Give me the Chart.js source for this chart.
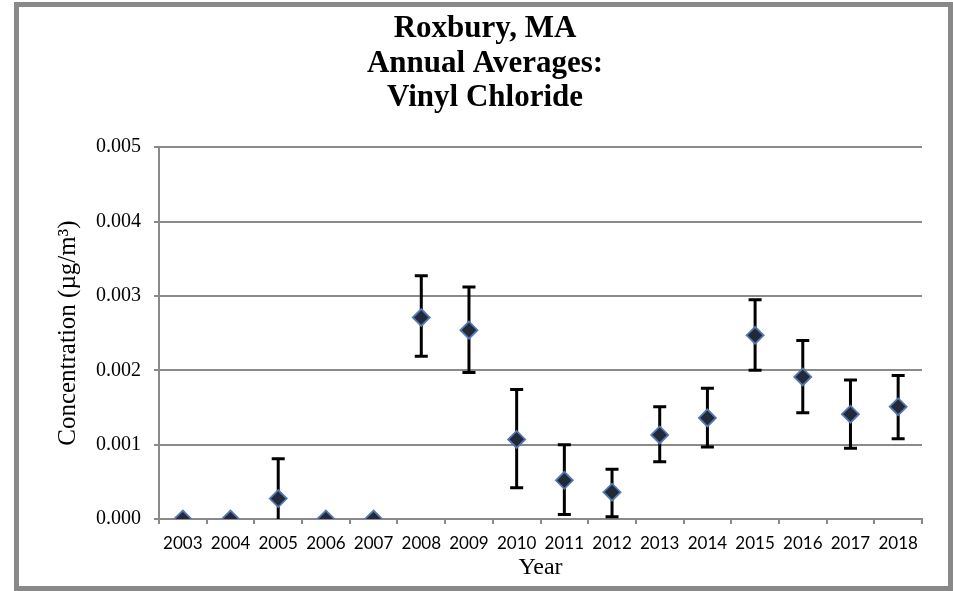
<!DOCTYPE html>
<html>
<head>
<meta charset="utf-8">
<script src="https://cdn.jsdelivr.net/npm/chart.js@4.4.1/dist/chart.umd.min.js"></script>
<style>
  html, body { margin: 0; padding: 0; background: #ffffff; }
  #wrap { position: relative; width: 953px; height: 591px; }
</style>
</head>
<body>
<div id="wrap"><canvas id="chart" width="953" height="591"></canvas></div>
<script>
// Annual average vinyl chloride concentrations, Roxbury MA (µg/m³)
const years = ['2003', '2004', '2005', '2006', '2007', '2008', '2009', '2010',
               '2011', '2012', '2013', '2014', '2015', '2016', '2017', '2018'];
const annualMean = [0, 0, 0.000275, 0, 0, 0.00271, 0.00254, 0.00107,
                    0.00052, 0.00036, 0.00113, 0.00136, 0.00247, 0.00191, 0.00141, 0.00151];
// Upper and lower ends of the error bars (null = no bar)
const errHigh = [null, null, 0.00081, null, null, 0.00327, 0.00312, 0.00174,
                 0.00100, 0.00067, 0.00151, 0.00176, 0.00295, 0.00240, 0.00187, 0.00193];
const errLow = [null, null, 0, null, null, 0.00219, 0.00197, 0.00042,
                0.00006, 0.00003, 0.00077, 0.00097, 0.00200, 0.00143, 0.00095, 0.00108];
const yTicks = [0, 0.001, 0.002, 0.003, 0.004, 0.005];

const AXIS_GRAY = '#8a8a8a';
const SERIF = '"Liberation Serif", "Times New Roman", serif';

// Grey frame around the whole figure
const framePlugin = {
  id: 'frame',
  afterDraw(chart) {
    const ctx = chart.ctx;
    ctx.save();
    ctx.strokeStyle = '#898989';
    ctx.lineWidth = 5;
    ctx.strokeRect(16.5, 4.5, 934, 584);
    ctx.restore();
  }
};

// Vertical error bars with caps, positioned through the chart's scales
const errorBarPlugin = {
  id: 'errorBars',
  beforeDatasetsDraw(chart) {
    const ctx = chart.ctx;
    const xs = chart.scales.x;
    const ys = chart.scales.y;
    ctx.save();
    ctx.strokeStyle = '#000000';
    ctx.lineWidth = 3;
    ctx.lineCap = 'butt';
    const cap = 6.5;
    years.forEach((yr, i) => {
      if (errHigh[i] === null || errLow[i] === null) return;
      const x = xs.getPixelForValue(i);
      const yTop = ys.getPixelForValue(errHigh[i]);
      const yBot = ys.getPixelForValue(errLow[i]);
      ctx.beginPath();
      ctx.moveTo(x, yTop);
      ctx.lineTo(x, yBot);
      ctx.moveTo(x - cap, yTop);
      ctx.lineTo(x + cap, yTop);
      if (errLow[i] > ys.min) {
        ctx.moveTo(x - cap, yBot);
        ctx.lineTo(x + cap, yBot);
      }
      ctx.stroke();
    });
    ctx.restore();
  }
};

new Chart(document.getElementById('chart'), {
  type: 'line',
  data: {
    labels: years,
    datasets: [{
      label: 'Vinyl Chloride',
      data: annualMean,
      showLine: false,
      pointStyle: 'rectRot',
      pointRadius: 8.5,
      pointHoverRadius: 8.5,
      pointBackgroundColor: '#222a3a',
      pointBorderColor: '#5578b0',
      pointBorderWidth: 1.8
    }]
  },
  options: {
    responsive: false,
    animation: false,
    events: [],
    layout: { padding: { left: 48, right: 31, top: 0, bottom: 0 } },
    plugins: {
      legend: { display: false },
      tooltip: { enabled: false },
      title: {
        display: true,
        text: ['Roxbury, MA', 'Annual Averages:', 'Vinyl Chloride'],
        color: '#000000',
        font: { family: SERIF, size: 31, weight: 'bold', lineHeight: 1.11 },
        padding: { top: 12, bottom: 32 }
      }
    },
    scales: {
      x: {
        type: 'category',
        offset: true,
        afterFit(scale) { scale.height = 72; },
        grid: {
          offset: true,
          drawOnChartArea: false,
          drawTicks: true,
          tickLength: 5,
          color: AXIS_GRAY,
          lineWidth: 2
        },
        border: { display: true, color: AXIS_GRAY, width: 2 },
        ticks: {
          color: '#000000',
          font: { family: 'Lato, "Open Sans", sans-serif', size: 17 },
          padding: 9,
          maxRotation: 0,
          autoSkip: false
        },
        title: {
          display: true,
          text: 'Year',
          color: '#000000',
          font: { family: SERIF, size: 24 },
          padding: { top: 0, bottom: 9 }
        }
      },
      y: {
        min: 0,
        max: 0.005,
        afterFit(scale) { scale.width = 111; },
        afterBuildTicks(scale) { scale.ticks = yTicks.map(v => ({ value: v })); },
        grid: {
          color: AXIS_GRAY,
          lineWidth: 2,
          drawTicks: true,
          tickLength: 5
        },
        border: { display: true, color: AXIS_GRAY, width: 2 },
        ticks: {
          color: '#000000',
          font: { family: SERIF, size: 20 },
          padding: 13,
          callback: (v) => Number(v).toFixed(3)
        },
        title: {
          display: true,
          text: 'Concentration (µg/m³)',
          color: '#000000',
          font: { family: SERIF, size: 25 },
          padding: { top: 5, bottom: 0 }
        }
      }
    }
  },
  plugins: [errorBarPlugin, framePlugin]
});
</script>
</body>
</html>
